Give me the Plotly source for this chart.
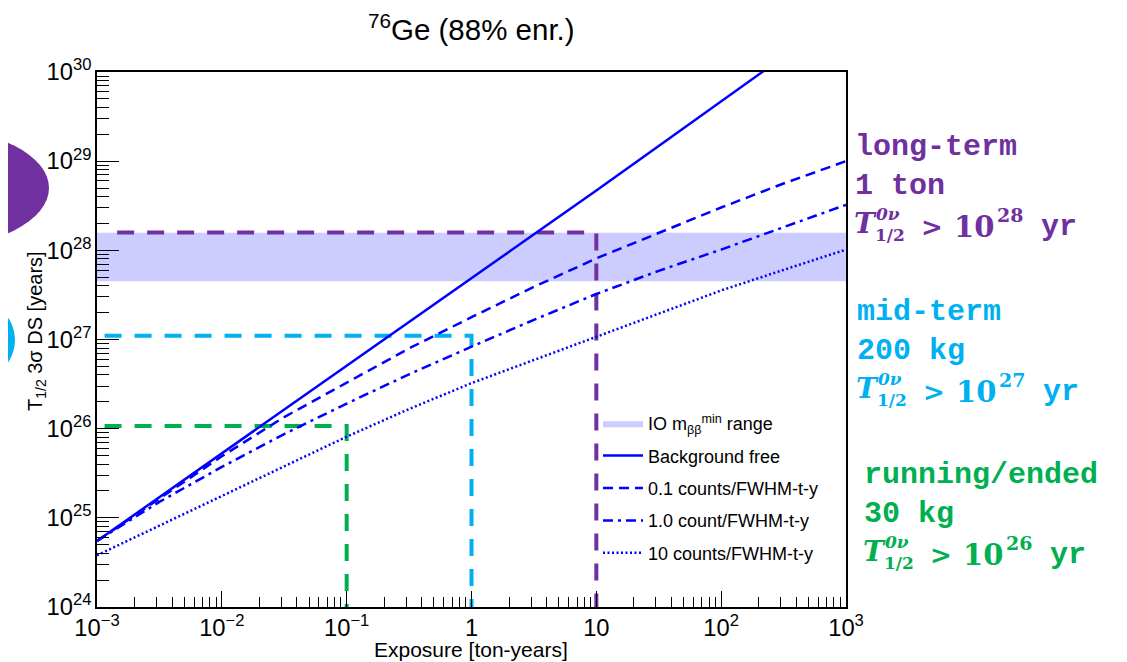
import plotly.graph_objects as go

# ---------------- data ----------------
exposure = [1e-3, 3.16e-3, 1e-2, 3.16e-2, 0.1, 0.316, 1, 3.16, 10, 31.6, 100, 316, 1000]
t_bkg_free = [5.50e24, 1.70e25, 5.25e25, 1.62e26, 5.01e26, 1.55e27, 4.79e27,
              1.51e28, 4.68e28, 1.48e29, 4.68e29, 1.48e30, 4.68e30]
t_bkg_01 = [5.50e24, 1.66e25, 4.90e25, 1.35e26, 3.31e26, 7.94e26, 1.78e27,
            3.89e27, 8.13e27, 1.58e28, 3.02e28, 5.62e28, 1.00e29]
t_bkg_1 = [5.50e24, 1.51e25, 3.72e25, 8.71e25, 1.91e26, 4.07e26, 8.32e26,
           1.66e27, 3.24e27, 5.89e27, 1.02e28, 1.82e28, 3.24e28]
t_bkg_10 = [3.80e24, 8.13e24, 1.74e25, 3.80e25, 8.13e25, 1.66e26, 3.24e26,
            5.89e26, 1.07e27, 1.95e27, 3.55e27, 6.03e27, 1.02e28]

series_names = ["Background free", "0.1 counts/FWHM-t-y",
                "1.0 count/FWHM-t-y", "10 counts/FWHM-t-y"]

io_band = [4.5e27, 1.57e28]           # IO m_bb^min range (years)
band_label = "IO m<sub>ββ</sub><sup>min</sup> range"

goal_exposure = [10, 1, 0.1]          # ton-years
goal_t = [1.58e28, 1.1e27, 1.07e26]   # years
goal_start = [1.45e-3, 1.15e-3, 1.15e-3]
goal_colors = ["#7030a0", "#00b0f0", "#00b050"]
goal_line1 = ["long-term", "mid-term", "running/ended"]
goal_line2 = ["1 ton", "200 kg", "30 kg"]
goal_exp = ["28", "27", "26"]

title_text = "<sup>76</sup>Ge (88% enr.)"
x_title = "Exposure [ton-years]"
y_title = "T<sub>1/2</sub> 3σ DS [years]"

# ---------------- layout helpers (screen pixel coords) ----------------
OFF = 8                      # default page body margin
W, H = 1127 - OFF, 662 - OFF
L, R, T, B = 97, 846, 72, 607


def px(xp):
    return (xp - L) / (R - L)


def py(yp):
    return (B - yp) / (B - T)


fig = go.Figure()

# IO band
fig.add_trace(go.Scatter(
    x=[exposure[0], exposure[-1], exposure[-1], exposure[0], exposure[0]],
    y=[io_band[0], io_band[0], io_band[1], io_band[1], io_band[0]],
    fill="toself", fillcolor="#ccccff", mode="lines",
    line=dict(width=0, color="#ccccff"),
    name=band_label, legendgroup="g0", hoverinfo="skip"))

# goal lines
for xs, e, t, c in zip(goal_start, goal_exposure, goal_t, goal_colors):
    fig.add_trace(go.Scatter(
        x=[xs, e, e], y=[t, t, 1e24], mode="lines",
        line=dict(color=c, width=4, dash="17px,13px"),
        showlegend=False, hoverinfo="skip"))

styles = ["solid", "10px,6px", "10px,5px,3px,5px", "2px,2.5px"]
for i, (yv, nm) in enumerate(zip([t_bkg_free, t_bkg_01, t_bkg_1, t_bkg_10], series_names)):
    fig.add_trace(go.Scatter(
        x=exposure, y=yv, mode="lines", name=nm, legendgroup=f"g{i+1}",
        line=dict(color="#0000ff", width=2.5, dash=styles[i])))

sans = "Liberation Sans, Arial, sans-serif"
axis_font = dict(family=sans, size=19, color="black")

fig.update_xaxes(type="log", range=[-3, 3], dtick=1, tick0=0, exponentformat="power",
                 showline=True, linecolor="black", linewidth=1.5, mirror=True,
                 ticks="inside", ticklen=16, tickwidth=1, tickcolor="black",
                 minor=dict(ticks="inside", ticklen=10, tickwidth=1, tickcolor="black", showgrid=False),
                 showgrid=False, zeroline=False, tickfont=axis_font)
fig.update_yaxes(type="log", range=[24, 30], dtick=1, tick0=0, exponentformat="power",
                 showline=True, linecolor="black", linewidth=1.5, mirror=True,
                 ticks="inside", ticklen=22, tickwidth=1, tickcolor="black",
                 minor=dict(ticks="inside", ticklen=12, tickwidth=1, tickcolor="black", showgrid=False),
                 showgrid=False, zeroline=False, tickfont=axis_font)

ann = []
ann.append(dict(text=title_text, x=px(471), y=py(28), xref="paper", yref="paper",
                showarrow=False, xanchor="center", yanchor="middle",
                font=dict(family=sans, size=29.5, color="black")))
ann.append(dict(text=x_title, x=px(471), y=py(649), xref="paper", yref="paper",
                showarrow=False, xanchor="center", yanchor="middle",
                font=dict(family=sans, size=21, color="black")))
ann.append(dict(text=y_title, x=px(36), y=py(331), xref="paper", yref="paper",
                showarrow=False, xanchor="center", yanchor="middle", textangle=-90,
                font=dict(family=sans, size=20, color="black")))

mono = "Liberation Mono, DejaVu Sans Mono, monospace"
serif = "DejaVu Serif, Liberation Serif, serif"
group_x = [853, 855, 862]
group_y = [147, 312, 475]
for gx, gy, c, l1, l2, ex in zip(group_x, group_y, goal_colors, goal_line1, goal_line2, goal_exp):
    def a(text, dx, dy, fam, size):
        ann.append(dict(text=text, x=px(gx + dx), y=py(gy + dy), xref="paper", yref="paper",
                        showarrow=False, xanchor="left", yanchor="middle",
                        font=dict(family=fam, size=size, color=c)))
    a("<b>" + l1 + "</b>", 0, 0, mono, 30)
    a("<b>" + l2 + "</b>", 0, 39, mono, 30)
    a("<b><i>T</i></b>", -1, 76, serif, 28)
    a("<b><i>0ν</i></b>", 21, 67, serif, 17)
    a("<b>1/2</b>", 20, 88, serif, 17)
    a("<b>></b>", 66, 80, serif, 26)
    a("<b>10</b>", 99, 80, serif, 29)
    a("<b>" + ex + "</b>", 142, 68, serif, 19)
    a("<b>yr</b>", 186, 80, mono, 30)

fig.update_layout(
    width=W, height=H, autosize=False,
    margin=dict(l=L - OFF, r=(W + OFF) - R, t=T - OFF, b=(H + OFF) - B),
    paper_bgcolor="white", plot_bgcolor="white",
    annotations=ann,
    legend=dict(x=px(598), y=py(405), xanchor="left", yanchor="top",
                bgcolor="rgba(0,0,0,0)", traceorder="grouped", tracegroupgap=6,
                itemwidth=40,
                font=dict(family=sans, size=18, color="black")),
    shapes=[
        dict(type="circle", xref="paper", yref="paper", layer="below",
             x0=px(-189), x1=px(49), y0=py(128), y1=py(248),
             fillcolor="#7030a0", line=dict(width=0)),
        dict(type="circle", xref="paper", yref="paper", layer="below",
             x0=px(-65), x1=px(15), y0=py(300), y1=py(380),
             fillcolor="#00b0f0", line=dict(width=0)),
    ],
)

fig.write_html("out.html")
